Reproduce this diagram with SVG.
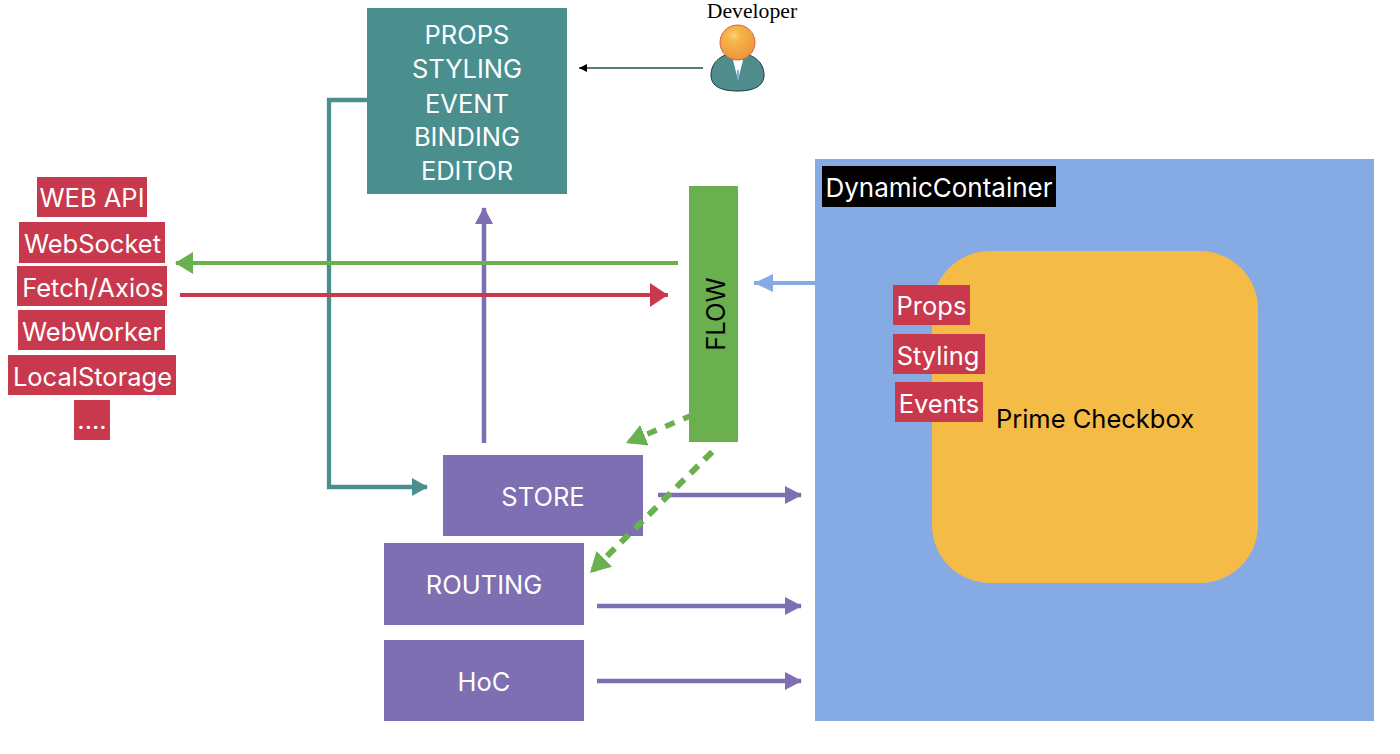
<svg xmlns="http://www.w3.org/2000/svg" width="1400" height="754" viewBox="0 0 1400 754">
<defs>
<style>
text{font-family:"Inter","Liberation Sans",sans-serif;font-size:25.5px;fill:#fff;text-anchor:middle;dominant-baseline:central}
.dark{fill:#000}
.red{fill:#c9394d}
.pur{fill:#7e6eb2}
.c{fill:none}
</style>
<radialGradient id="head" cx="0.4" cy="0.3" r="0.8"><stop offset="0" stop-color="#fbd27a"/><stop offset="0.25" stop-color="#f7b445"/><stop offset="1" stop-color="#e8903f"/></radialGradient>
<marker id="aGreen" markerUnits="userSpaceOnUse" markerWidth="20" markerHeight="22" refX="17" refY="11" orient="auto"><path d="M0 0L18 11L0 22Z" fill="#6ab04f"/></marker>
<marker id="aDash" markerUnits="userSpaceOnUse" markerWidth="22" markerHeight="24" refX="20" refY="12" orient="auto"><path d="M0 1L20 12L0 23Z" fill="#6ab04f"/></marker>
<marker id="aPur" markerUnits="userSpaceOnUse" markerWidth="18" markerHeight="18" refX="16" refY="9" orient="auto"><path d="M0 0L17 9L0 18Z" fill="#7e6eb2"/></marker>
<marker id="aTeal" markerUnits="userSpaceOnUse" markerWidth="17" markerHeight="18" refX="15" refY="9" orient="auto"><path d="M0 0L16 9L0 18Z" fill="#4a8e8e"/></marker>
<marker id="aRed" markerUnits="userSpaceOnUse" markerWidth="20" markerHeight="24" refX="18" refY="12" orient="auto"><path d="M0 0L18 12L0 24Z" fill="#c9394d"/></marker>
<marker id="aBlue" markerUnits="userSpaceOnUse" markerWidth="21" markerHeight="20" refX="19" refY="10" orient="auto"><path d="M0 1L19 10L0 19Z" fill="#86abe4"/></marker>
<marker id="aBlack" markerUnits="userSpaceOnUse" markerWidth="9" markerHeight="8" refX="8" refY="4" orient="auto"><path d="M0 0L8 4L0 8Z" fill="#000"/></marker>
</defs>
<rect width="1400" height="754" fill="#fff"/>
<g id="dynamic-container">
<rect x="815" y="159" width="559" height="562" fill="#86abe4"/>
<rect x="822" y="166" width="234" height="41" fill="#000"/>
<text x="939" y="187.5" style="font-size:26px">DynamicContainer</text>
</g>
<g id="prime-checkbox">
<rect x="932" y="251" width="326" height="332" rx="58" fill="#f5bb47"/>
<text class="dark" x="1095" y="418">Prime Checkbox</text>
</g>
<g id="props"><rect class="red" x="893" y="285" width="77" height="40"/><text x="931.5" y="305">Props</text></g>
<g id="styling"><rect class="red" x="893" y="334" width="92" height="40"/><text x="938" y="355">Styling</text></g>
<g id="events"><rect class="red" x="895" y="382" width="88" height="40"/><text x="939" y="403">Events</text></g>
<g id="editor">
<rect x="367" y="8" width="200" height="186" fill="#4a8e8e"/>
<text x="467" y="34">PROPS</text><text x="467" y="68">STYLING</text><text x="467" y="103">EVENT</text><text x="467" y="136">BINDING</text><text x="467" y="170">EDITOR</text>
</g>
<g id="developer">
<text x="752" y="11" style="font-family:'Liberation Serif',serif;font-size:21.7px;fill:#000">Developer</text>
<path d="M711 75C711 62 722 53 737 53C753 53 764 62 764 75C764 87 752 91 738 91C722 91 711 87 711 75Z" fill="#4f8c8c" stroke="#1d3340" stroke-width="1"/>
<path d="M733 60L738 80L743 60Z" fill="#fff"/><path d="M737 70H739L739 79H737Z" fill="#86abe4"/>
<circle cx="737.5" cy="42.5" r="17.5" fill="url(#head)" stroke="#d8604f" stroke-width="1"/>
</g>
<g id="flow">
<rect x="689" y="186" width="49" height="256" fill="#6ab04f"/>
<text class="dark" transform="translate(715 314) rotate(-90)">FLOW</text>
</g>
<g id="store"><rect class="pur" x="443" y="455" width="200" height="81"/><text x="543" y="496">STORE</text></g>
<g id="routing"><rect class="pur" x="384" y="543" width="200" height="82"/><text x="484" y="584">ROUTING</text></g>
<g id="hoc"><rect class="pur" x="384" y="640" width="200" height="81"/><text x="484" y="681">HoC</text></g>
<g id="web-api"><rect class="red" x="37" y="177" width="110" height="40"/><text x="92" y="197">WEB API</text></g>
<g id="websocket"><rect class="red" x="19" y="222" width="146" height="41"/><text x="92.5" y="243">WebSocket</text></g>
<g id="fetch"><rect class="red" x="17" y="266" width="150" height="40"/><text x="93" y="287">Fetch/Axios</text></g>
<g id="webworker"><rect class="red" x="18" y="310" width="147" height="40"/><text x="92" y="331">WebWorker</text></g>
<g id="localstorage"><rect class="red" x="8" y="355" width="168" height="40"/><text x="92.5" y="376">LocalStorage</text></g>
<g id="more"><rect class="red" x="74" y="400" width="36" height="40"/><text x="92" y="419">....</text></g>
<g id="connectors" class="c">
<path d="M703 68H579" stroke="#1f4f4f" stroke-width="1.5" marker-end="url(#aBlack)"/>
<path d="M367 100H329V487H427" stroke="#4a8e8e" stroke-width="4.3" marker-end="url(#aTeal)"/>
<path d="M484 443V208" stroke="#7e6eb2" stroke-width="4.5" marker-end="url(#aPur)"/>
<path d="M678 263H176" stroke="#6ab04f" stroke-width="4" marker-end="url(#aGreen)"/>
<path d="M180 295H668" stroke="#c9394d" stroke-width="4" marker-end="url(#aRed)"/>
<path d="M815 283H754" stroke="#86abe4" stroke-width="4" marker-end="url(#aBlue)"/>
<path d="M658 495H801" stroke="#7e6eb2" stroke-width="4.5" marker-end="url(#aPur)"/>
<path d="M597 606H801" stroke="#7e6eb2" stroke-width="4.5" marker-end="url(#aPur)"/>
<path d="M597 681H801" stroke="#7e6eb2" stroke-width="4.5" marker-end="url(#aPur)"/>
<path d="M692.5 415L626 443" stroke="#6ab04f" stroke-width="5.5" stroke-dasharray="10 9.5" marker-end="url(#aDash)"/>
<path d="M712.2 451.8L590 573" stroke="#6ab04f" stroke-width="6" stroke-dasharray="11 8.6" marker-end="url(#aDash)"/>
</g>
</svg>
